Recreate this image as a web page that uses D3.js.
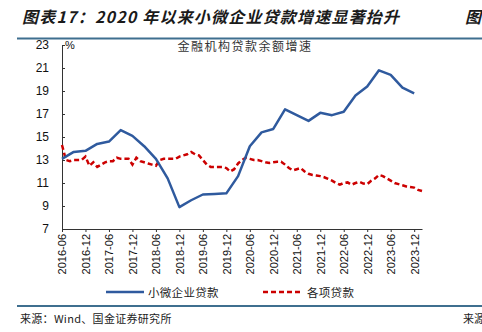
<!DOCTYPE html>
<html>
<head>
<meta charset="utf-8">
<script src="https://cdn.jsdelivr.net/npm/d3@7/dist/d3.min.js"></script>
<style>
  body { margin: 0; background: #fff; }
  svg { display: block; }
  .cjk { font-family: "Noto Sans CJK SC", sans-serif; }
  .num { font-family: "Liberation Sans", Arial, sans-serif; }
</style>
</head>
<body>
<svg id="chart" width="482" height="332"></svg>
<script>
// Monthly categories from 2016-06 to 2024-02
const months = d3.timeMonth.range(new Date(2016, 5, 1), new Date(2024, 2, 1)).map(d3.timeFormat("%Y-%m"));

// 各项贷款 (monthly, %)
const loanGrowth = [
  14.3, 13.0, 12.9, 13.0, 13.0, 13.0, 13.3, 12.5, 12.8, 12.4, 12.6, 12.8,
  12.9, 12.9, 13.2, 13.1, 13.1, 13.1, 12.6, 13.2, 12.9, 12.8, 12.7, 12.6,
  12.5, 13.0, 13.1, 13.1, 13.1, 13.1, 13.3, 13.4, 13.5, 13.7, 13.5, 13.4,
  13.0, 12.6, 12.4, 12.4, 12.4, 12.4, 12.3, 12.0, 12.2, 12.7, 13.0, 13.2,
  13.1, 13.0, 13.0, 12.9, 12.8, 12.75, 12.8, 12.85, 12.85, 12.6, 12.3, 12.1,
  12.2, 12.3, 12.0, 11.8, 11.7, 11.65, 11.6, 11.5, 11.35, 11.2, 11.0, 10.85,
  11.0, 11.05, 10.85, 11.0, 11.1, 10.95, 10.9, 11.2, 11.4, 11.7, 11.6, 11.4,
  11.2, 11.0, 10.9, 10.8, 10.7, 10.65, 10.6, 10.4, 10.3
];

// 小微企业贷款 (quarterly, %)
const smallMicroMonths = [
  "2016-06", "2016-09", "2016-12", "2017-03", "2017-06", "2017-09", "2017-12", "2018-03",
  "2018-06", "2018-09", "2018-12", "2019-03", "2019-06", "2019-09", "2019-12", "2020-03",
  "2020-06", "2020-09", "2020-12", "2021-03", "2021-06", "2021-09", "2021-12", "2022-03",
  "2022-06", "2022-09", "2022-12", "2023-03", "2023-06", "2023-09", "2023-12"
];
const smallMicroGrowth = [
  13.1, 13.7, 13.8, 14.4, 14.6, 15.6, 15.1, 14.2,
  13.1, 11.4, 8.9, 9.5, 10.0, 10.05, 10.1, 11.6,
  14.2, 15.4, 15.7, 17.4, 16.9, 16.4, 17.1, 16.9,
  17.2, 18.6, 19.4, 20.8, 20.4, 19.3, 18.8
];

const xTickLabels = [
  "2016-06", "2016-12", "2017-06", "2017-12", "2018-06", "2018-12", "2019-06", "2019-12",
  "2020-06", "2020-12", "2021-06", "2021-12", "2022-06", "2022-12", "2023-06", "2023-12"
];
const yTicks = [7, 9, 11, 13, 15, 17, 19, 21, 23];

const seriesNames = ["小微企业贷款", "各项贷款"];
const blue = "#2f5a9e", red = "#cc0000", rule = "#3f6f8f";

const svg = d3.select("#chart");

const x = d3.scalePoint().domain(months).range([62, 422]);
const y = d3.scaleLinear().domain([7, 23]).range([229, 45]);

// Header
svg.append("text").attr("class", "cjk")
  .attr("x", 22).attr("y", 23)
  .attr("font-size", 16).attr("font-weight", "bold").attr("font-style", "italic")
  .attr("letter-spacing", 1.2)
  .attr("fill", "#1a1a1a")
  .text("图表17：2020 年以来小微企业贷款增速显著抬升");
svg.append("text").attr("class", "cjk")
  .attr("x", 465).attr("y", 23)
  .attr("font-size", 16).attr("font-weight", "bold").attr("font-style", "italic")
  .attr("fill", "#1a1a1a")
  .text("图表");
svg.append("line").attr("x1", 17).attr("x2", 482).attr("y1", 38.5).attr("y2", 38.5)
  .attr("stroke", rule).attr("stroke-width", 2);

// Inner title
svg.append("text").attr("class", "cjk")
  .attr("x", 245).attr("y", 51).attr("text-anchor", "middle")
  .attr("font-size", 12).attr("fill", "#333")
  .attr("letter-spacing", 1.5)
  .text("金融机构贷款余额增速");

// Axes
const yAxis = svg.append("g").attr("transform", "translate(62,0)")
  .call(d3.axisLeft(y).tickValues(yTicks).tickSizeInner(-3).tickSizeOuter(0).tickPadding(13));
yAxis.selectAll("text").attr("class", "num").attr("font-size", 12).attr("fill", "#111");
yAxis.selectAll("line, path").attr("stroke", "#333");

const xAxis = svg.append("g").attr("transform", "translate(0,229)")
  .call(d3.axisBottom(x).tickValues(xTickLabels).tickSizeInner(3).tickSizeOuter(0));
xAxis.selectAll("text").attr("class", "num").attr("font-size", 11).attr("fill", "#111")
  .attr("transform", "rotate(-90)").attr("text-anchor", "end")
  .attr("x", -5).attr("y", 0).attr("dy", "0.35em");
xAxis.selectAll("line, path").attr("stroke", "#333");

svg.append("text").attr("class", "num")
  .attr("x", 65).attr("y", 49).attr("font-size", 11).attr("fill", "#111").text("%");

// Lines
const line = d3.line().x(d => x(d[0])).y(d => y(d[1]));

svg.append("path")
  .datum(months.map((m, i) => [m, loanGrowth[i]]))
  .attr("d", line).attr("fill", "none")
  .attr("stroke", red).attr("stroke-width", 2.5).attr("stroke-dasharray", "5,3");

svg.append("path")
  .datum(smallMicroMonths.map((m, i) => [m, smallMicroGrowth[i]]))
  .attr("d", line).attr("fill", "none")
  .attr("stroke", blue).attr("stroke-width", 2.5).attr("stroke-linejoin", "round");

// Legend
const legend = svg.append("g");
legend.append("line").attr("x1", 106).attr("x2", 144).attr("y1", 292).attr("y2", 292)
  .attr("stroke", blue).attr("stroke-width", 2.5);
legend.append("text").attr("class", "cjk").attr("x", 148).attr("y", 296.5)
  .attr("font-size", 11.5).attr("fill", "#222").attr("letter-spacing", 0.3).text(seriesNames[0]);
legend.append("line").attr("x1", 263).attr("x2", 303).attr("y1", 292).attr("y2", 292)
  .attr("stroke", red).attr("stroke-width", 2.5).attr("stroke-dasharray", "5,3");
legend.append("text").attr("class", "cjk").attr("x", 307).attr("y", 296.5)
  .attr("font-size", 11.5).attr("fill", "#222").attr("letter-spacing", 0.3).text(seriesNames[1]);

// Footer
svg.append("line").attr("x1", 17).attr("x2", 482).attr("y1", 306).attr("y2", 306)
  .attr("stroke", rule).attr("stroke-width", 2);
svg.append("text").attr("class", "cjk").attr("x", 20).attr("y", 323)
  .attr("font-size", 11).attr("fill", "#222").attr("letter-spacing", 0.3).text("来源：Wind、国金证券研究所");
svg.append("text").attr("class", "cjk").attr("x", 463).attr("y", 323)
  .attr("font-size", 11).attr("fill", "#222").text("来源");
</script>
</body>
</html>
